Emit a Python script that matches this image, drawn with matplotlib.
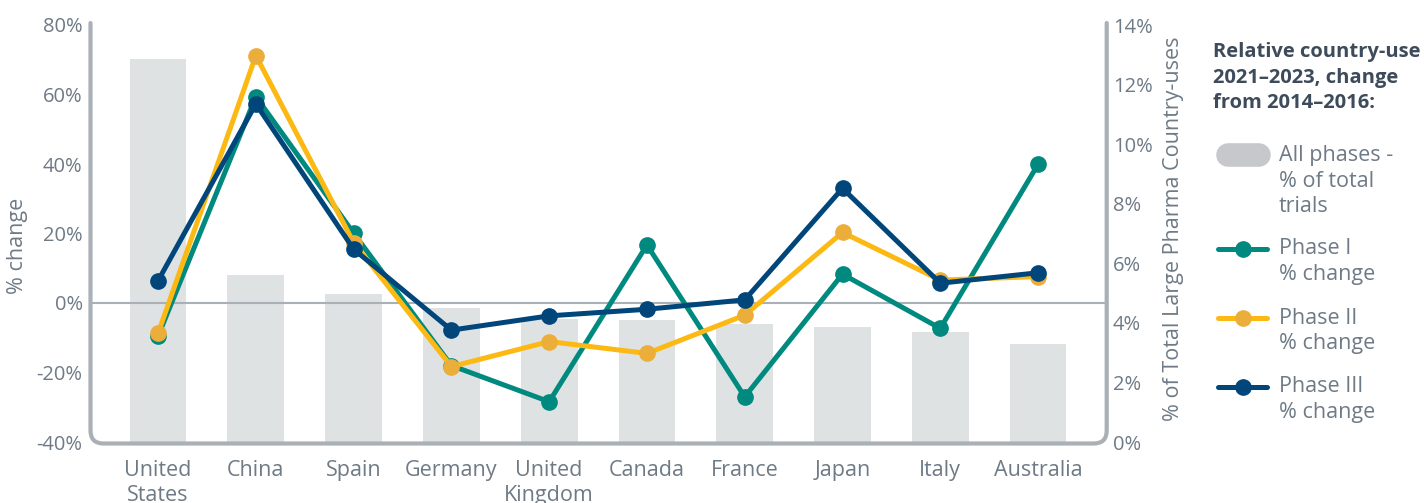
import matplotlib
matplotlib.use("Agg")
import matplotlib.pyplot as plt
from matplotlib.path import Path
from matplotlib.patches import PathPatch
from matplotlib.lines import Line2D
import numpy as np

plt.rcParams['font.family'] = ['Open Sans', 'DejaVu Sans']

countries = ["United\nStates", "China", "Spain", "Germany", "United\nKingdom",
             "Canada", "France", "Japan", "Italy", "Australia"]
share_all_phases = [12.86, 5.61, 4.97, 4.49, 4.12, 4.10, 3.96, 3.85, 3.70, 3.29]
phase1_change = [-9.5, 59.4, 20.1, -18.0, -28.4, 16.7, -27.0, 8.3, -7.3, 39.9]
phase2_change = [-8.7, 71.2, 17.4, -18.3, -11.1, -14.5, -3.5, 20.3, 6.6, 7.6]
phase3_change = [6.4, 57.3, 15.5, -7.8, -3.7, -1.8, 0.9, 33.0, 5.7, 8.7]

W, H = 1424, 503
fig = plt.figure(figsize=(W / 100, H / 100), dpi=100)

def fx(px):
    return px / W

def fy(py):
    return 1 - py / H

TEXT = "#6E7A86"
TITLE = "#3D4B5A"
FRAME = "#A9B0B6"
BAR = "#DFE2E3"
TEAL = "#00897E"
YELLOW = "#FDB913"
YELLOW_MK = "#EBAE3A"
NAVY = "#00467A"

x_left, x_right, y_top, y_bot = 91, 1106.5, 25, 442
ax = fig.add_axes([fx(x_left), fy(y_bot), fx(x_right) - fx(x_left), fy(y_top) - fy(y_bot)])
ax2 = ax.twinx()
ax.set_zorder(ax2.get_zorder() + 1)
ax.patch.set_visible(False)

x = np.arange(len(countries))
ax2.bar(x, share_all_phases, width=0.58, color=BAR, zorder=1)
ax2.set_ylim(0, 14)
ax2.set_yticks(np.arange(0, 15, 2))
ax2.set_yticklabels([f"{v}%" for v in range(0, 15, 2)])

ax.axhline(0, color=FRAME, lw=1.5, zorder=1)
series = [(phase1_change, TEAL, TEAL), (phase2_change, YELLOW, YELLOW_MK), (phase3_change, NAVY, NAVY)]
for vals, lc, mc in series:
    ax.plot(x, vals, color=lc, lw=3.6, marker="o", ms=11, mfc=mc, mec=mc, zorder=3,
            solid_joinstyle="round")

ax.set_ylim(-40, 80)
ax.set_yticks(np.arange(-40, 81, 20))
ax.set_yticklabels([f"{v}%" for v in range(-40, 81, 20)])
ax.set_xlim(-0.686, 9.70)
ax.set_xticks(x)
ax.set_xticklabels(countries, linespacing=1.25)

for a in (ax, ax2):
    for s in a.spines.values():
        s.set_visible(False)
ax.tick_params(axis="y", length=0, pad=6, labelsize=14.5, labelcolor=TEXT)
ax.tick_params(axis="x", length=0, pad=13, labelsize=15.5, labelcolor=TEXT)
ax2.tick_params(axis="y", length=0, pad=4.5, labelsize=14.5, labelcolor=TEXT)

# Frame with rounded bottom corners
fx0, fx1, ftop, fbot, r = 90.5, 1106.7, 23, 443.5, 13
pts = [(fx0, ftop), (fx0, fbot - r), (fx0, fbot), (fx0 + r, fbot),
       (fx1 - r, fbot), (fx1, fbot), (fx1, fbot - r), (fx1, ftop)]
codes = [Path.MOVETO, Path.LINETO, Path.CURVE3, Path.CURVE3,
         Path.LINETO, Path.CURVE3, Path.CURVE3, Path.LINETO]
frame = Path([(fx(px), fy(py)) for px, py in pts], codes)
fig.patches.append(PathPatch(frame, transform=fig.transFigure, fill=False,
                             edgecolor=FRAME, lw=3.0, capstyle="round", joinstyle="round"))

fig.text(fx(18), fy(246), "% change", rotation=90, ha="center", va="center",
         fontsize=15.5, color=TEXT)
fig.text(fx(1173), fy(229), "% of Total Large Pharma Country-uses", rotation=90,
         ha="center", va="center", fontsize=15.5, color=TEXT)

# Legend
for i, line in enumerate(["Relative country-use", "2021–2023, change", "from 2014–2016:"]):
    fig.text(fx(1213), fy(52 + 25.5 * i), line, ha="left", va="center",
             fontsize=14.5, fontweight="bold", color=TITLE)

fig.lines.append(Line2D([fx(1228), fx(1259)], [fy(155), fy(155)], transform=fig.transFigure,
                        color="#C6C8CB", lw=17, solid_capstyle="round"))
legend_entries = [
    (None, None, ["All phases -", "% of total", "trials"], 156),
    (TEAL, TEAL, ["Phase I", "% change"], 249),
    (YELLOW, YELLOW_MK, ["Phase II", "% change"], 318),
    (NAVY, NAVY, ["Phase III", "% change"], 387),
]
for lc, mc, lines, yc in legend_entries:
    if lc is not None:
        fig.lines.append(Line2D([fx(1218), fx(1267)], [fy(yc), fy(yc)], transform=fig.transFigure,
                                color=lc, lw=3.6, solid_capstyle="round"))
        fig.lines.append(Line2D([fx(1242.5)], [fy(yc)], transform=fig.transFigure,
                                marker="o", ms=11, mfc=mc, mec=mc, lw=0))
    for j, t in enumerate(lines):
        fig.text(fx(1279), fy(yc + 25.5 * j), t, ha="left", va="center",
                 fontsize=15.5, color=TEXT)

fig.savefig("out.png", dpi=100)
